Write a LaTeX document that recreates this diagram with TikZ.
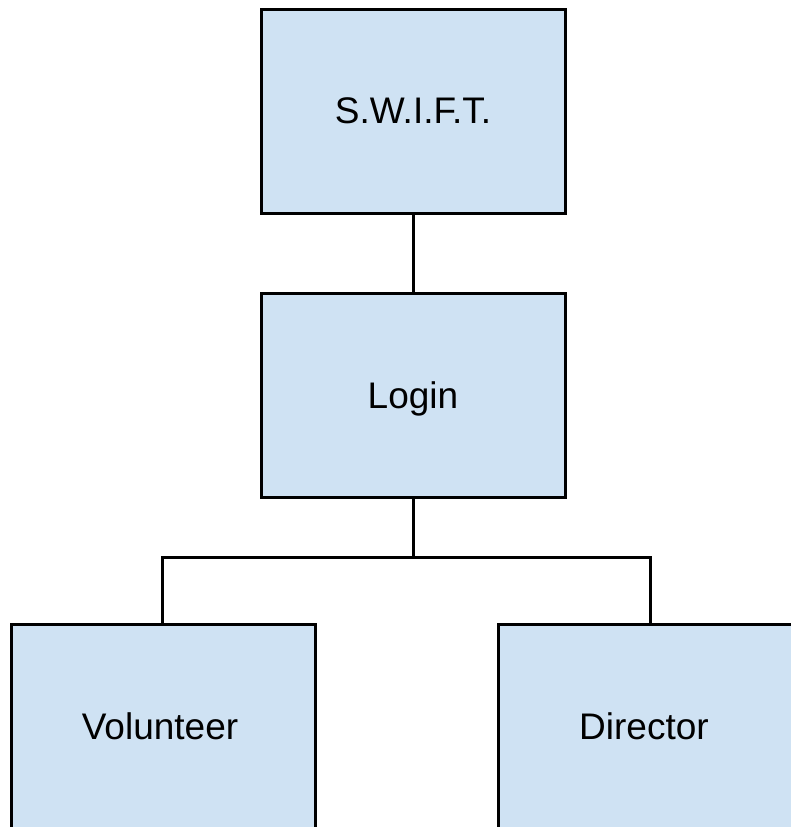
\documentclass[tikz,border=0pt]{standalone}
\usepackage{fontspec}
\setmainfont{Liberation Sans}
\definecolor{boxfill}{HTML}{CFE2F3}
\tikzset{
  orgbox/.style={draw=black, fill=boxfill, line width=3pt, minimum width=304pt,
    minimum height=204pt, inner sep=0pt, text depth=0pt, font=\fontsize{37}{44}\selectfont},
  link/.style={draw=black, line width=3pt}
}
\begin{document}
\begin{tikzpicture}[x=1pt,y=-1pt]
\useasboundingbox (0,0) rectangle (791,827);
\begin{scope}
\clip (0,0) rectangle (791,827);
\fill[white] (0,0) rectangle (791,827);
\node[orgbox] (swift) at (413,111) {S.W.I.F.T.};
\node[orgbox] (login) at (413,395) {Login};
\node[orgbox] (vol) at (163,726) {\hspace*{-6pt}Volunteer};
\node[orgbox, minimum width=400pt] (dir) at (698,726) {\hspace*{-108pt}Director};
\coordinate (split) at (413,557);
\coordinate (volturn) at (162,557);
\coordinate (dirturn) at (650,557);
\draw[link] (swift.south) -- (login.north);
\draw[link] (login.south) -- (split);
\draw[link, line cap=rect] (volturn) -- (dirturn);
\draw[link] (volturn) -- (volturn |- vol.north);
\draw[link] (dirturn) -- (dirturn |- dir.north);
\end{scope}
\end{tikzpicture}
\end{document}
